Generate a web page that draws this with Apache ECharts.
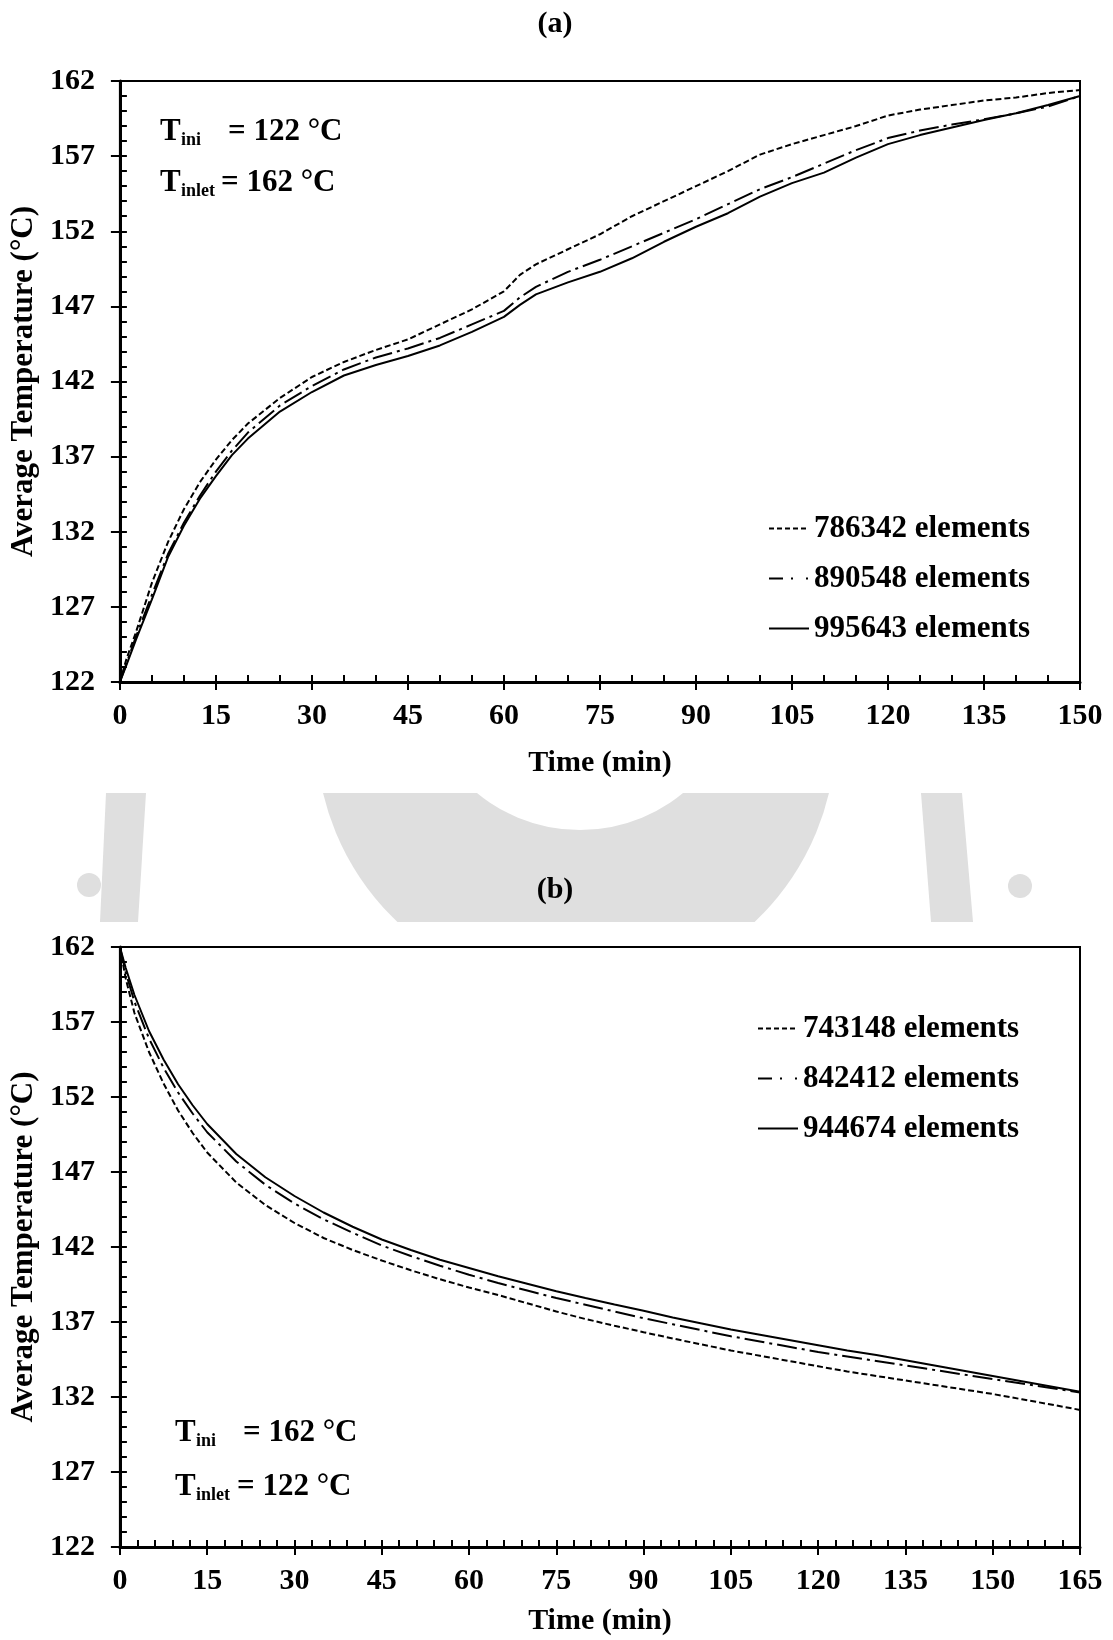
<!DOCTYPE html>
<html>
<head>
<meta charset="utf-8">
<title>Average temperature vs time – mesh study</title>
<script src="https://cdn.jsdelivr.net/npm/echarts@6/dist/echarts.min.js"></script>
<style>
  html, body { margin: 0; padding: 0; background: #fff; }
  #wrap { position: relative; width: 1113px; height: 1640px; overflow: hidden; }
  #chart { position: absolute; left: 0; top: 0; width: 1113px; height: 1640px; }
  /* faint logo watermark, only visible in the strip between the two panels */
  #mark { position: absolute; left: 0; top: 793px; width: 1113px; height: 129px; overflow: hidden; }
  #mark div { position: absolute; }
  .gray { background: #dfdfdf; }
  .white { background: #fff; }
</style>
</head>
<body>
<div id="wrap">
  <div id="mark">
    <div class="gray" style="left:316px;top:-320px;width:520px;height:520px;border-radius:50%"></div>
    <div class="white" style="left:418px;top:-287px;width:324px;height:324px;border-radius:50%"></div>
    <div class="gray" style="left:0;top:0;width:1113px;height:129px;clip-path:polygon(106px 0,146px 0,138px 129px,100px 129px)"></div>
    <div class="gray" style="left:0;top:0;width:1113px;height:129px;clip-path:polygon(921px 0,962px 0,973px 129px,931px 129px)"></div>
    <div class="gray" style="left:77px;top:80px;width:24px;height:24px;border-radius:50%"></div>
    <div class="gray" style="left:1008px;top:81px;width:24px;height:24px;border-radius:50%"></div>
  </div>
  <div id="chart"></div>
</div>
<script>
// ---- (a) heating: T_ini = 122 °C, T_inlet = 162 °C ----
const timeA = [0, 1, 2.5, 5, 7.5, 10, 12.5, 15, 17.5, 20, 25, 30, 35, 40, 45, 50, 55, 60, 62.5, 65,
               70, 75, 80, 85, 90, 95, 100, 105, 110, 115, 120, 125, 130, 135, 140, 145, 150];
const temp786342 = [122.0, 123.5, 125.3, 128.6, 131.3, 133.5, 135.3, 136.8, 138.1, 139.2, 140.9, 142.3, 143.3, 144.1, 144.8, 145.8, 146.8, 148.0, 149.1, 149.8,
                    150.8, 151.8, 153.0, 154.0, 155.0, 156.0, 157.1, 157.8, 158.4, 159.0, 159.7, 160.1, 160.4, 160.7, 160.9, 161.2, 161.4];
const temp890548 = [122.0, 123.2, 125.0, 127.8, 130.5, 132.6, 134.4, 136.0, 137.4, 138.6, 140.4, 141.7, 142.8, 143.6, 144.2, 144.9, 145.8, 146.7, 147.6, 148.3,
                    149.3, 150.1, 151.0, 151.9, 152.8, 153.8, 154.8, 155.6, 156.5, 157.4, 158.2, 158.7, 159.1, 159.45, 159.85, 160.3, 161.0];
const temp995643 = [122.0, 123.1, 124.8, 127.5, 130.3, 132.4, 134.2, 135.7, 137.1, 138.2, 140.0, 141.3, 142.4, 143.1, 143.7, 144.4, 145.3, 146.3, 147.1, 147.8,
                    148.6, 149.3, 150.2, 151.3, 152.3, 153.2, 154.3, 155.2, 155.9, 156.9, 157.8, 158.4, 158.9, 159.4, 159.85, 160.4, 161.0];
const namesA = ['786342 elements', '890548 elements', '995643 elements'];

// ---- (b) cooling: T_ini = 162 °C, T_inlet = 122 °C ----
const timeB = [0, 1, 2.5, 5, 7.5, 10, 12.5, 15, 20, 25, 30, 35, 40, 45, 50, 55, 60, 65, 70,
               75, 80, 85, 90, 95, 100, 105, 110, 115, 120, 125, 130, 135, 140, 145, 150, 155, 160, 165];
const temp743148 = [162.0, 159.9, 157.6, 155.0, 152.9, 151.1, 149.6, 148.3, 146.3, 144.8, 143.6, 142.6, 141.8, 141.1, 140.45, 139.85, 139.3, 138.8, 138.25,
                    137.7, 137.2, 136.75, 136.32, 135.9, 135.5, 135.1, 134.75, 134.4, 134.05, 133.7, 133.4, 133.1, 132.8, 132.5, 132.2, 131.85, 131.5, 131.14];
const temp842412 = [162.0, 160.3, 158.35, 155.9, 153.95, 152.3, 150.9, 149.65, 147.7, 146.15, 144.9, 143.85, 142.95, 142.1, 141.4, 140.75, 140.15, 139.6, 139.1,
                    138.6, 138.15, 137.7, 137.25, 136.85, 136.45, 136.05, 135.7, 135.35, 135.0, 134.7, 134.4, 134.1, 133.8, 133.5, 133.2, 132.9, 132.6, 132.3];
const temp944674 = [162.0, 160.6, 158.8, 156.4, 154.5, 152.85, 151.45, 150.2, 148.2, 146.65, 145.4, 144.3, 143.35, 142.5, 141.8, 141.15, 140.6, 140.05, 139.55,
                    139.05, 138.6, 138.17, 137.75, 137.3, 136.9, 136.5, 136.15, 135.8, 135.45, 135.1, 134.8, 134.45, 134.1, 133.75, 133.4, 133.05, 132.7, 132.35];
const namesB = ['743148 elements', '842412 elements', '944674 elements'];

// axis ranges
const tempRange = [122, 162];
const tempStep = 5;
const timeStep = 15;
const timeMaxA = 150;
const timeMaxB = 165;

const FONT = '"Liberation Serif", "Times New Roman", serif';
const DASHED = [6, 3];
const DASH_DOT = [20, 5, 3, 5];
const LEGEND_DASHED = [5, 3];
const LEGEND_DASH_DOT = [14, 8, 2, 13, 2, 1];

const pairs = (times, temps) => times.map((t, i) => [t, temps[i]]);

const tickLabel = { color: '#000', fontFamily: FONT, fontWeight: 'bold', fontSize: 30 };
const nameStyle = { color: '#000', fontFamily: FONT, fontWeight: 'bold', fontSize: 30 };
const blackTick = { color: '#000', width: 2 };

// main axis carries line, labels and inward ticks; the twin only adds the outward half of major ticks
function timeAxes(gridIndex, max, minorSplit, nameGap) {
  const base = { type: 'value', gridIndex, min: 0, max, interval: timeStep, position: 'bottom',
                 splitLine: { show: false }, minorSplitLine: { show: false } };
  return [
    { ...base,
      axisLine: { show: true, onZero: false, lineStyle: { color: '#000', width: 3 } },
      axisTick: { show: true, inside: true, length: 7, lineStyle: blackTick },
      minorTick: { show: true, splitNumber: minorSplit, length: 7, lineStyle: blackTick },
      axisLabel: { ...tickLabel, margin: 19, showMinLabel: true, showMaxLabel: true },
      name: 'Time (min)', nameLocation: 'middle', nameGap, nameTextStyle: nameStyle },
    { ...base,
      axisLine: { show: false },
      axisTick: { show: true, inside: false, length: 8, lineStyle: blackTick },
      minorTick: { show: false },
      axisLabel: { show: false } }
  ];
}

function tempAxes(gridIndex) {
  const base = { type: 'value', gridIndex, min: tempRange[0], max: tempRange[1], interval: tempStep,
                 position: 'left', splitLine: { show: false }, minorSplitLine: { show: false } };
  return [
    { ...base,
      axisLine: { show: true, onZero: false, lineStyle: { color: '#000', width: 3 } },
      axisTick: { show: true, inside: true, length: 7, lineStyle: blackTick },
      minorTick: { show: true, splitNumber: 5, length: 7, lineStyle: blackTick },
      axisLabel: { ...tickLabel, margin: 25, showMinLabel: true, showMaxLabel: true },
      name: 'Average Temperature (°C)', nameLocation: 'middle', nameGap: 78,
      nameTextStyle: { ...nameStyle, fontSize: 31 } },
    { ...base,
      axisLine: { show: false },
      axisTick: { show: true, inside: false, length: 9, lineStyle: blackTick },
      minorTick: { show: false },
      axisLabel: { show: false } }
  ];
}

function lineSeries(name, times, temps, dash, axisIndex) {
  return {
    type: 'line', name, data: pairs(times, temps),
    xAxisIndex: axisIndex, yAxisIndex: axisIndex,
    symbol: 'none', showSymbol: false, smooth: false, silent: true,
    lineStyle: { color: '#000', width: 2, type: dash },
    itemStyle: { color: '#000' },
    emphasis: { disabled: true },
    z: 3
  };
}

function legendBox(left, top, names) {
  const dashes = [LEGEND_DASHED, LEGEND_DASH_DOT, 'solid'];
  return {
    orient: 'vertical', left, top, padding: 0,
    itemWidth: 40, itemHeight: 30, itemGap: 19,
    selectedMode: false,
    data: names.map((name, i) => ({ name, lineStyle: { type: dashes[i], width: 2, color: '#000' } })),
    itemStyle: { color: 'rgba(0,0,0,0)', borderColor: 'rgba(0,0,0,0)', borderWidth: 0, opacity: 0 },
    textStyle: { color: '#000', fontFamily: FONT, fontWeight: 'bold', fontSize: 31, lineHeight: 30 }
  };
}

function label(x, y, text, size, align) {
  return {
    type: 'text', x, y, z: 20, silent: true,
    style: { text, fill: '#000', fontFamily: FONT, fontWeight: 'bold', fontSize: size,
             align: align || 'left', verticalAlign: 'middle',
             textAlign: align || 'left', textVerticalAlign: 'middle' }
  };
}

const option = {
  backgroundColor: 'transparent',
  animation: false,
  grid: [
    { left: 119, top: 81, width: 961, height: 601, show: true, borderColor: '#000', borderWidth: 2, backgroundColor: 'transparent' },
    { left: 119, top: 947, width: 961, height: 600, show: true, borderColor: '#000', borderWidth: 2, backgroundColor: 'transparent' }
  ],
  xAxis: [...timeAxes(0, timeMaxA, 3, 66), ...timeAxes(1, timeMaxB, 5, 59)],
  yAxis: [...tempAxes(0), ...tempAxes(1)],
  legend: [legendBox(768, 513, namesA), legendBox(757, 1013, namesB)],
  series: [
    lineSeries(namesA[0], timeA, temp786342, DASHED, 0),
    lineSeries(namesA[1], timeA, temp890548, DASH_DOT, 0),
    lineSeries(namesA[2], timeA, temp995643, 'solid', 0),
    lineSeries(namesB[0], timeB, temp743148, DASHED, 2),
    lineSeries(namesB[1], timeB, temp842412, DASH_DOT, 2),
    lineSeries(namesB[2], timeB, temp944674, 'solid', 2)
  ],
  graphic: [
    label(555, 24, '(a)', 30, 'center'),
    label(555, 890, '(b)', 30, 'center'),
    // panel (a) boundary conditions
    label(160, 131.5, 'T', 31), label(181, 140, 'ini', 18), label(228, 131.5, '= 122 °C', 31),
    label(160, 182.5, 'T', 31), label(181, 191, 'inlet', 18), label(221, 182.5, '= 162 °C', 31),
    // panel (b) boundary conditions
    label(175, 1432.5, 'T', 31), label(196, 1441, 'ini', 18), label(243, 1432.5, '= 162 °C', 31),
    label(175, 1486.5, 'T', 31), label(196, 1495, 'inlet', 18), label(237, 1486.5, '= 122 °C', 31)
  ]
};

const chart = echarts.init(document.getElementById('chart'), null, { renderer: 'canvas' });
chart.setOption(option);
</script>
</body>
</html>
